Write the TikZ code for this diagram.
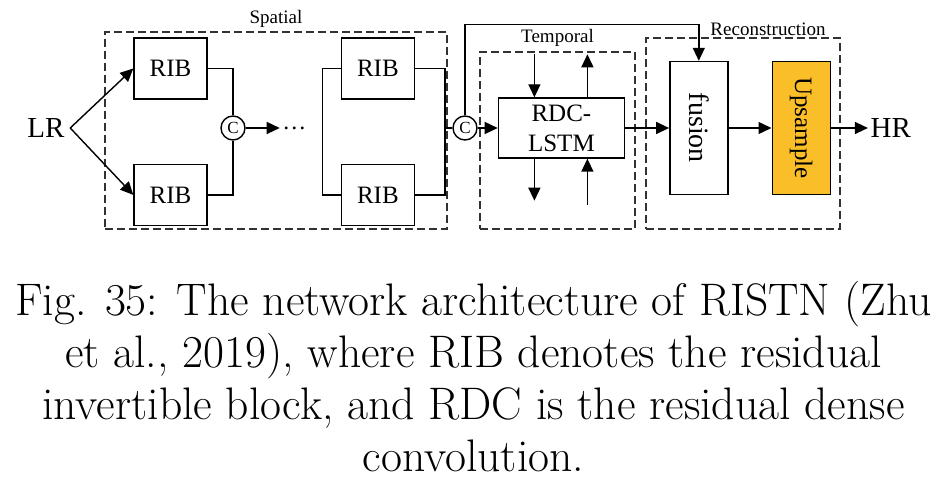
\documentclass[tikz,border=0pt]{standalone}
\usepackage{fontspec}
\newfontfamily\diagfont{Liberation Serif}
\usetikzlibrary{arrows.meta,fit,calc,positioning}
\definecolor{upsampleColor}{RGB}{250,190,40}
\definecolor{groupColor}{RGB}{50,50,50}
\tikzset{block/.style={draw, align=center, minimum width=36.5pt, minimum height=30.5pt, inner sep=1pt, font=\diagfont\fontsize{12.5}{15}\selectfont}}
\tikzset{tallblock/.style={block, minimum width=29pt, minimum height=66.5pt}}
\tikzset{concat/.style={draw, circle, minimum size=12pt, inner sep=0pt, font=\diagfont\fontsize{8.5}{9}\selectfont}}
\tikzset{group/.style={draw=groupColor, dash pattern=on 4pt off 2pt, inner sep=0pt}}
\tikzset{grouplabel/.style={anchor=base, inner sep=0pt, font=\diagfont\fontsize{9.5}{11}\selectfont}}
\tikzset{io/.style={inner sep=1pt, font=\diagfont\fontsize{14.5}{16}\selectfont}}

\begin{document}
\begin{tikzpicture}[x=0.5pt, y=-0.5pt, line width=0.7pt, >={Triangle[length=6.5pt, width=6pt]}]
\useasboundingbox (0,0) rectangle (947,485);
% Nodes
\node (LR) [io] at (46,128) {LR};
\coordinate (Split) at ([xshift=1.5pt]LR.east);

\node (RIBa) [block] at (170.5,68.5) {RIB};
\node (RIBb) [block, below=32pt of RIBa] {RIB};
\node (ConcatA) [concat] at (233,128) {C};
\node (Dots) [right=17pt of ConcatA, inner sep=1pt, font=\diagfont\fontsize{12}{14}\selectfont] {\dots};

\node (RIBc) [block, right=66.5pt of RIBa] {RIB};
\node (RIBd) [block, below=32pt of RIBc] {RIB};
\node (ConcatB) [concat] at (465,128) {C};

\node (RDCLSTM) [block, minimum width=63pt, minimum height=30pt, right=10pt of ConcatB] {RDC-\\LSTM};
\node (Fusion) [tallblock, font=\diagfont\fontsize{14}{16}\selectfont, right=22pt of RDCLSTM] {\rotatebox{-90}{fusion}};
\node (Upsample) [tallblock, fill=upsampleColor, right=21.5pt of Fusion] {\rotatebox{-90}{Upsample}};
\node (HR) [io, right=18.5pt of Upsample] {HR};

% Groups
\node (SpatialBox) [group, fit={(105,32) (447,229)}] {};
\node (TemporalBox) [group, fit={(480,52) (635,229)}] {};
\node (ReconstructionBox) [group, fit={(646,38) (840,229)}] {};
\node (SpatialLabel) [grouplabel] at ([yshift=4pt]SpatialBox.north) {Spatial};
\node (TemporalLabel) [grouplabel] at ([yshift=4.5pt]TemporalBox.north) {Temporal};
\node (ReconstructionLabel) [grouplabel] at ([xshift=12.5pt, yshift=1pt]ReconstructionBox.north) {Reconstruction};

% Connectors
\draw [->] (Split) -- (RIBa.west);
\draw [->] (Split) -- (RIBb.west);
\draw (RIBa.east) -| (ConcatA.north);
\draw (RIBb.east) -| (ConcatA.south);
\draw [->] (ConcatA) -- (Dots);

\draw (RIBc.west) -- ++(-9pt,0) |- (RIBd.west);
\draw (RIBc.east) -- ++(15pt,0) coordinate (MergeTop) |- (RIBd.east);
\draw (MergeTop |- ConcatB) -- (ConcatB.west);

\draw [->] (ConcatB) -- (RDCLSTM);
\draw [->] (ConcatB.north) -- ++(0,-91) -| (Fusion.north);

\draw [->] ([xshift=-13.5pt, yshift=21.5pt]RDCLSTM.north) -- ([xshift=-13.5pt]RDCLSTM.north);
\draw [->] ([xshift=13pt]RDCLSTM.north) -- ([xshift=13pt, yshift=21.5pt]RDCLSTM.north);
\draw [->] ([xshift=-13.5pt]RDCLSTM.south) -- ([xshift=-13.5pt, yshift=-21pt]RDCLSTM.south);
\draw [->] ([xshift=13pt, yshift=-23pt]RDCLSTM.south) -- ([xshift=13pt]RDCLSTM.south);

\draw [->] (RDCLSTM) -- (Fusion);
\draw [->] (Fusion) -- (Upsample);
\draw [->] (Upsample) -- (HR);

% Caption
\node (Caption) [align=center, anchor=base, font=\fontsize{22.8}{26}\selectfont] at (473.5,472)
  {Fig. 35: The network architecture of RISTN (Zhu\\ et al., 2019), where RIB denotes the residual\\ invertible block, and RDC is the residual dense\\ convolution.};
\end{tikzpicture}
\end{document}
